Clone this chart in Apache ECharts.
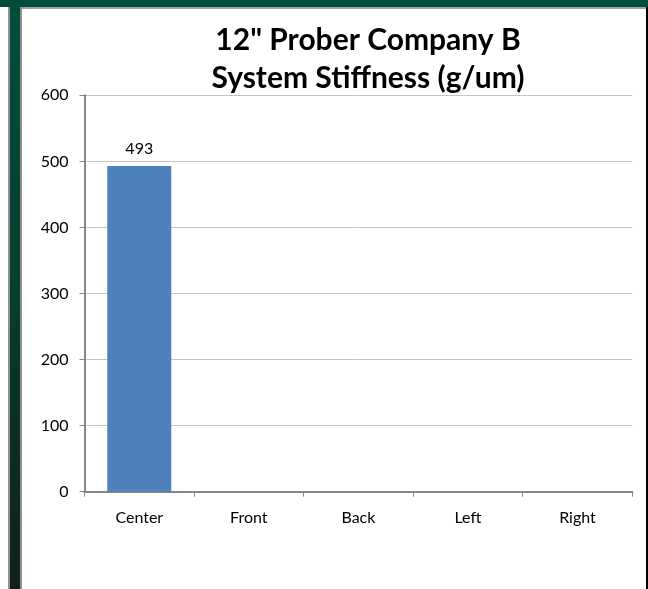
<!DOCTYPE html>
<html><head><meta charset="utf-8">
<script src="https://cdn.jsdelivr.net/npm/echarts@6/dist/echarts.min.js"></script>
<style>html,body{margin:0;padding:0;background:#fff}#c{width:648px;height:589px}</style>
</head><body><div id="c"></div>
<script>
var categories = ["Center", "Front", "Back", "Left", "Right"];
var stiffness = [493, null, null, null, null];
var yTicks = [0, 100, 200, 300, 400, 500, 600];
var titleLines = ['12" Prober Company B', 'System Stiffness (g/um)'];

var chart = echarts.init(document.getElementById('c'), null, {renderer: 'canvas'});
var font = 'Lato, "Open Sans", sans-serif';
chart.setOption({
  animation: false,
  backgroundColor: '#ffffff',
  title: {
    text: titleLines.join('\n'),
    left: 363, top: 16, textAlign: 'center',
    textStyle: {fontFamily: font, fontSize: 30, fontWeight: 'bold', color: '#000', lineHeight: 38}
  },
  graphic: [
    {type: 'rect', shape: {x: 0, y: 0, width: 648, height: 7}, style: {fill: '#004d3b'}, silent: true},
    {type: 'rect', shape: {x: 20, y: 7, width: 628, height: 2}, style: {fill: '#a0a0a0'}, silent: true},
    {type: 'rect', shape: {x: 8, y: 7, width: 14, height: 582}, style: {fill: '#909090'}, silent: true},
    {type: 'rect', shape: {x: 10, y: 0, width: 10, height: 589},
      style: {fill: new echarts.graphic.LinearGradient(0, 0, 0, 1, [{offset: 0, color: '#004d3b'}, {offset: 0.5, color: '#073d2f'}, {offset: 1, color: '#0f2019'}])}, silent: true},
    {type: 'rect', shape: {x: 646, y: 7, width: 2, height: 582}, style: {fill: '#000'}, silent: true}
  ],
  grid: {left: 84.5, right: 15.7, top: 95.3, bottom: 97.3, containLabel: false},
  xAxis: {
    type: 'category', data: categories,
    axisLine: {lineStyle: {color: '#868686', width: 2}},
    axisTick: {show: true, length: 5, lineStyle: {color: '#868686', width: 1}},
    axisLabel: {fontFamily: font, fontSize: 16, color: '#000', margin: 18}
  },
  yAxis: {
    type: 'value', min: yTicks[0], max: yTicks[yTicks.length - 1], interval: 100,
    axisLine: {show: true, lineStyle: {color: '#868686', width: 2}},
    axisTick: {show: true, length: 5, lineStyle: {color: '#868686', width: 1}},
    axisLabel: {fontFamily: font, fontSize: 16, color: '#000', margin: 16},
    splitLine: {lineStyle: {color: '#c4c4c4', width: 1}}
  },
  series: [{
    type: 'bar', data: stiffness, barWidth: 64,
    itemStyle: {color: '#4f81bd'},
    label: {show: true, position: 'top', distance: 9, fontFamily: font, fontSize: 16, color: '#000'}
  }]
});
</script></body></html>
